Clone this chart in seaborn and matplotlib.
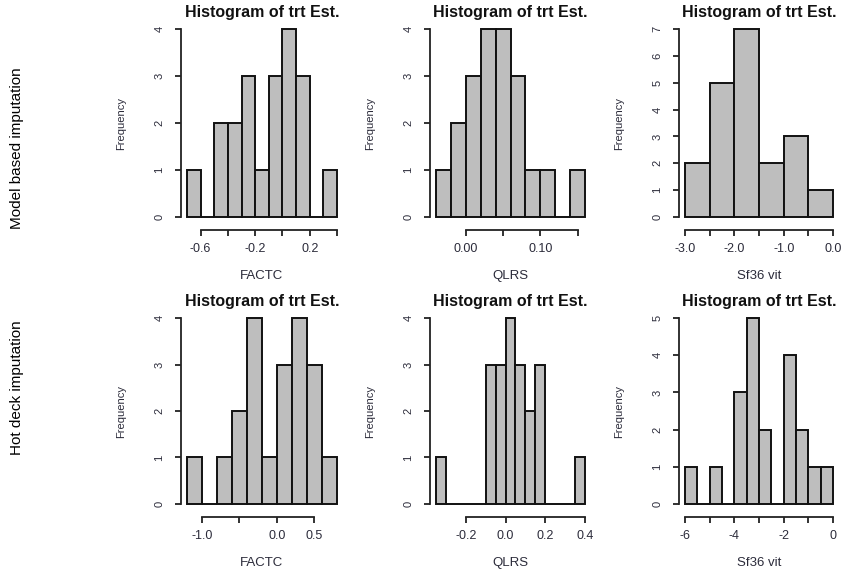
import numpy as np
import pandas as pd
import matplotlib
matplotlib.use("Agg")
import matplotlib.pyplot as plt
import seaborn as sns

sns.set_style("white")
plt.rcParams['font.family'] = ['Liberation Sans', 'DejaVu Sans']

# ---- data (bin edges and counts) ----
factc_model_edges = [-0.7, -0.6, -0.5, -0.4, -0.3, -0.2, -0.1, 0.0, 0.1, 0.2, 0.3, 0.4]
factc_model_counts = [1, 0, 2, 2, 3, 1, 3, 4, 3, 0, 1]

qlrs_model_edges = [-0.04, -0.02, 0.0, 0.02, 0.04, 0.06, 0.08, 0.10, 0.12, 0.14, 0.16]
qlrs_model_counts = [1, 2, 3, 4, 4, 3, 1, 1, 0, 1]

sf36_model_edges = [-3.0, -2.5, -2.0, -1.5, -1.0, -0.5, 0.0]
sf36_model_counts = [2, 5, 7, 2, 3, 1]

factc_hot_edges = [-1.2, -1.0, -0.8, -0.6, -0.4, -0.2, 0.0, 0.2, 0.4, 0.6, 0.8]
factc_hot_counts = [1, 0, 1, 2, 4, 1, 3, 4, 3, 1]

qlrs_hot_edges = [-0.35, -0.30, -0.25, -0.20, -0.15, -0.10, -0.05, 0.0, 0.05, 0.10,
                  0.15, 0.20, 0.25, 0.30, 0.35, 0.40]
qlrs_hot_counts = [1, 0, 0, 0, 0, 3, 3, 4, 3, 2, 3, 0, 0, 0, 1]

sf36_hot_edges = [-6.0, -5.5, -5.0, -4.5, -4.0, -3.5, -3.0, -2.5, -2.0, -1.5, -1.0, -0.5, 0.0]
sf36_hot_counts = [1, 0, 1, 0, 3, 5, 2, 0, 4, 2, 1, 1]

xlabels = ["FACTC", "QLRS", "Sf36 vit"]
row_labels = ["Model based imputation", "Hot deck imputation"]
title_text = "Histogram of trt Est."

x_ticks = [
    [-0.6, -0.4, -0.2, 0.0, 0.2, 0.4],
    [0.0, 0.05, 0.10, 0.15],
    [-3.0, -2.5, -2.0, -1.5, -1.0, -0.5, 0.0],
    [-1.0, -0.5, 0.0, 0.5],
    [-0.2, 0.0, 0.2, 0.4],
    [-6, -5, -4, -3, -2, -1, 0],
]
x_ticklabels = [
    ["-0.6", "", "-0.2", "", "0.2", ""],
    ["0.00", "", "0.10", ""],
    ["-3.0", "", "-2.0", "", "-1.0", "", "0.0"],
    ["-1.0", "", "0.0", "0.5"],
    ["-0.2", "0.0", "0.2", "0.4"],
    ["-6", "", "-4", "", "-2", "", "0"],
]

panels = [
    (factc_model_edges, factc_model_counts),
    (qlrs_model_edges, qlrs_model_counts),
    (sf36_model_edges, sf36_model_counts),
    (factc_hot_edges, factc_hot_counts),
    (qlrs_hot_edges, qlrs_hot_counts),
    (sf36_hot_edges, sf36_hot_counts),
]

W, H = 845, 569
fig = plt.figure(figsize=(W / 100, H / 100), dpi=100)

col_x = [181, 430, 679]
col_w = [162, 161, 160]
row_y = [(21.5, 224.5), (310.6, 511.4)]

txt_col = "#2b2b3a"

for i, (edges, counts) in enumerate(panels):
    r, c = divmod(i, 3)
    y0, y1 = row_y[r]
    ax = fig.add_axes([col_x[c] / W, 1 - y1 / H, col_w[c] / W, (y1 - y0) / H])
    e = np.array(edges, dtype=float)
    df = pd.DataFrame({"x": (e[:-1] + e[1:]) / 2, "w": np.array(counts, dtype=float)})
    sns.histplot(data=df, x="x", weights="w", bins=list(e), color="#bebebe",
                 edgecolor="#111111", linewidth=1.4, alpha=1, ax=ax)
    rng = e[-1] - e[0]
    ax.set_xlim(e[0] - 0.04 * rng, e[-1] + 0.04 * rng)
    m = max(counts)
    ax.set_ylim(-0.04 * m, m * 1.04)
    for s in ["top", "right"]:
        ax.spines[s].set_visible(False)
    for s in ["left", "bottom"]:
        ax.spines[s].set_color("#222222")
        ax.spines[s].set_linewidth(1.3)
    ax.spines["bottom"].set_position(("outward", 4))
    ax.spines["bottom"].set_bounds(x_ticks[i][0], x_ticks[i][-1])
    ax.spines["left"].set_bounds(0, m)
    ax.set_xticks(x_ticks[i])
    ax.set_xticklabels(x_ticklabels[i])
    ax.set_yticks(range(0, m + 1))
    ax.set_yticklabels([str(v) for v in range(0, m + 1)], rotation=90, va="center")
    ax.tick_params(axis="both", direction="out", length=4, width=1.3, color="#222222",
                   labelcolor=txt_col, bottom=True, left=True)
    ax.tick_params(axis="x", labelsize=9, pad=5.5)
    ax.tick_params(axis="y", labelsize=8, pad=8)
    ax.set_xlabel(xlabels[c], fontsize=9.5, color=txt_col, labelpad=10.5)
    ax.set_ylabel("Frequency", fontsize=8, color=txt_col, labelpad=20)
    ax.set_title(title_text, fontsize=11.5, fontweight="bold", color="#111111", pad=3)
    ax.patch.set_alpha(0)

fig.text(17 / W, 1 - 148 / H, row_labels[0], rotation=90, ha="center", va="center",
         fontsize=11, family=["Liberation Sans Narrow", "Liberation Sans", "DejaVu Sans"],
         color="black")
fig.text(17 / W, 1 - 388 / H, row_labels[1], rotation=90, ha="center", va="center",
         fontsize=11, family=["Liberation Sans Narrow", "Liberation Sans", "DejaVu Sans"],
         color="black")

fig.savefig("out.png", dpi=100)
